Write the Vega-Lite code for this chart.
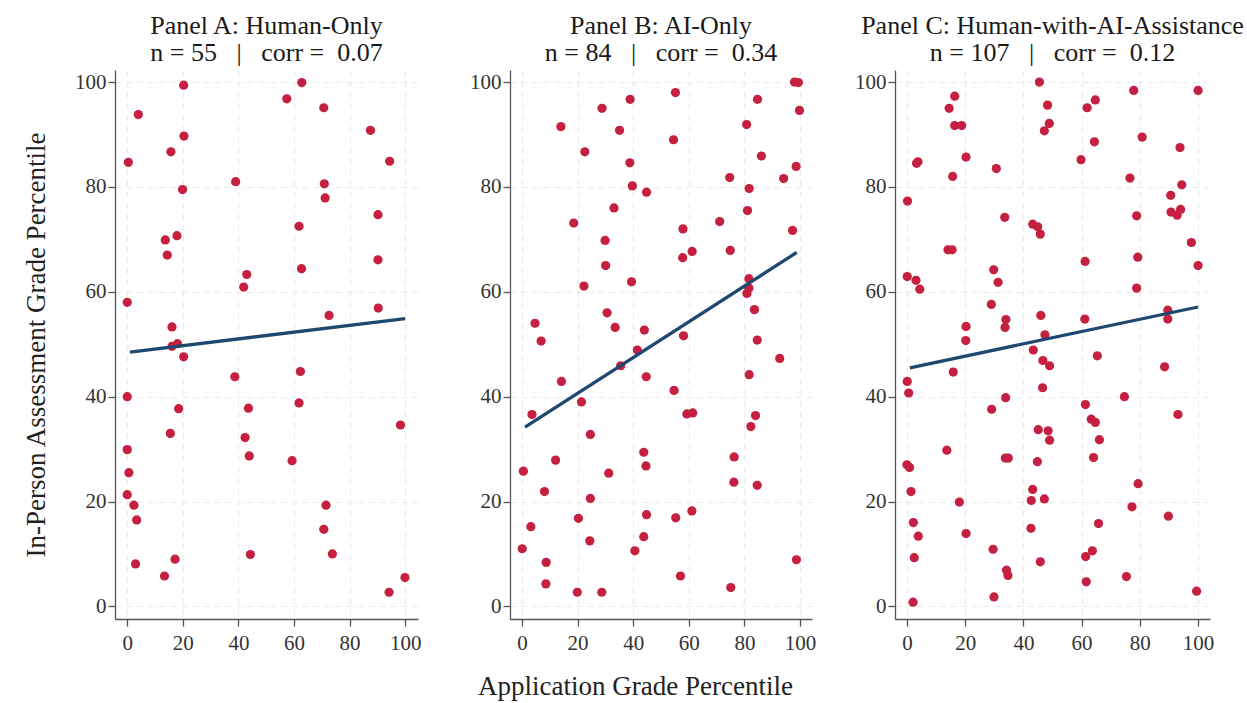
{
  "$schema": "https://vega.github.io/schema/vega-lite/v6.json",
  "background": "white",
  "padding": {"left": 22, "top": 13, "right": 2, "bottom": 2},
  "spacing": 38,
  "config": {
    "font": "Liberation Serif",
    "view": {"stroke": null},
    "axis": {
      "labelFont": "Liberation Serif",
      "labelFontSize": 21,
      "labelColor": "#333333",
      "domainColor": "#555555",
      "domainWidth": 1.3,
      "tickColor": "#555555",
      "tickSize": 7,
      "tickWidth": 1.3,
      "grid": true,
      "gridColor": "#ebebeb",
      "gridDash": [6, 5],
      "gridWidth": 1.2,
      "titleFont": "Liberation Serif",
      "titleFontSize": 27,
      "titleFontWeight": "normal",
      "titleColor": "#222222"
    },
    "axisX": {"labelPadding": 6},
    "axisY": {"labelPadding": 2},
    "title": {
      "font": "Liberation Serif",
      "fontSize": 26,
      "fontWeight": "normal",
      "color": "#1a1a1a",
      "lineHeight": 27,
      "anchor": "middle",
      "offset": 4
    }
  },
  "datasets": {
    "points": [
      {"panel": "A", "app": 20.3, "inperson": 99.4},
      {"panel": "A", "app": 62.8, "inperson": 99.9},
      {"panel": "A", "app": 57.4, "inperson": 96.8},
      {"panel": "A", "app": 4.0, "inperson": 93.8},
      {"panel": "A", "app": 70.7, "inperson": 95.1},
      {"panel": "A", "app": 20.4, "inperson": 89.7},
      {"panel": "A", "app": 87.5, "inperson": 90.8},
      {"panel": "A", "app": 15.7, "inperson": 86.7},
      {"panel": "A", "app": 0.4, "inperson": 84.7},
      {"panel": "A", "app": 94.4, "inperson": 84.9},
      {"panel": "A", "app": 39.0, "inperson": 81.0},
      {"panel": "A", "app": 19.9, "inperson": 79.5},
      {"panel": "A", "app": 70.9, "inperson": 80.6},
      {"panel": "A", "app": 71.2, "inperson": 77.9},
      {"panel": "A", "app": 90.2, "inperson": 74.7},
      {"panel": "A", "app": 17.9, "inperson": 70.7},
      {"panel": "A", "app": 13.7, "inperson": 69.9},
      {"panel": "A", "app": 61.8, "inperson": 72.5},
      {"panel": "A", "app": 14.4, "inperson": 67.0},
      {"panel": "A", "app": 90.2, "inperson": 66.1},
      {"panel": "A", "app": 43.0, "inperson": 63.3},
      {"panel": "A", "app": 41.9, "inperson": 60.9},
      {"panel": "A", "app": 62.7, "inperson": 64.4},
      {"panel": "A", "app": 0.0, "inperson": 58.0},
      {"panel": "A", "app": 90.3, "inperson": 56.9},
      {"panel": "A", "app": 72.6, "inperson": 55.5},
      {"panel": "A", "app": 16.1, "inperson": 53.3},
      {"panel": "A", "app": 16.1, "inperson": 49.6},
      {"panel": "A", "app": 18.1, "inperson": 50.1},
      {"panel": "A", "app": 20.3, "inperson": 47.6},
      {"panel": "A", "app": 38.7, "inperson": 43.8},
      {"panel": "A", "app": 62.3, "inperson": 44.8},
      {"panel": "A", "app": 0.0, "inperson": 40.0},
      {"panel": "A", "app": 18.5, "inperson": 37.7},
      {"panel": "A", "app": 43.6, "inperson": 37.8},
      {"panel": "A", "app": 61.8, "inperson": 38.8},
      {"panel": "A", "app": 98.3, "inperson": 34.6},
      {"panel": "A", "app": 15.5, "inperson": 33.0},
      {"panel": "A", "app": 42.4, "inperson": 32.2},
      {"panel": "A", "app": 43.9, "inperson": 28.7},
      {"panel": "A", "app": 59.3, "inperson": 27.8},
      {"panel": "A", "app": 0.0, "inperson": 29.9},
      {"panel": "A", "app": 0.6, "inperson": 25.5},
      {"panel": "A", "app": 0.0, "inperson": 21.3},
      {"panel": "A", "app": 2.4, "inperson": 19.3},
      {"panel": "A", "app": 71.5, "inperson": 19.3},
      {"panel": "A", "app": 3.4, "inperson": 16.5},
      {"panel": "A", "app": 70.7, "inperson": 14.7},
      {"panel": "A", "app": 44.3, "inperson": 9.9},
      {"panel": "A", "app": 73.8, "inperson": 10.0},
      {"panel": "A", "app": 17.2, "inperson": 9.0},
      {"panel": "A", "app": 3.0, "inperson": 8.1},
      {"panel": "A", "app": 13.4, "inperson": 5.8},
      {"panel": "A", "app": 99.9, "inperson": 5.5},
      {"panel": "A", "app": 94.2, "inperson": 2.7},

      {"panel": "B", "app": 98.0, "inperson": 100.0},
      {"panel": "B", "app": 99.4, "inperson": 99.9},
      {"panel": "B", "app": 55.2, "inperson": 98.0},
      {"panel": "B", "app": 38.9, "inperson": 96.7},
      {"panel": "B", "app": 84.7, "inperson": 96.7},
      {"panel": "B", "app": 28.8, "inperson": 95.0},
      {"panel": "B", "app": 99.8, "inperson": 94.6},
      {"panel": "B", "app": 14.0, "inperson": 91.5},
      {"panel": "B", "app": 35.1, "inperson": 90.8},
      {"panel": "B", "app": 80.8, "inperson": 91.9},
      {"panel": "B", "app": 54.5, "inperson": 89.0},
      {"panel": "B", "app": 22.6, "inperson": 86.7},
      {"panel": "B", "app": 86.1, "inperson": 85.9},
      {"panel": "B", "app": 38.8, "inperson": 84.6},
      {"panel": "B", "app": 98.6, "inperson": 83.9},
      {"panel": "B", "app": 74.7, "inperson": 81.8},
      {"panel": "B", "app": 94.1, "inperson": 81.6},
      {"panel": "B", "app": 39.7, "inperson": 80.2},
      {"panel": "B", "app": 44.8, "inperson": 79.0},
      {"panel": "B", "app": 81.7, "inperson": 79.7},
      {"panel": "B", "app": 33.1, "inperson": 76.0},
      {"panel": "B", "app": 81.1, "inperson": 75.5},
      {"panel": "B", "app": 18.6, "inperson": 73.1},
      {"panel": "B", "app": 71.1, "inperson": 73.4},
      {"panel": "B", "app": 29.9, "inperson": 69.8},
      {"panel": "B", "app": 57.9, "inperson": 72.0},
      {"panel": "B", "app": 97.3, "inperson": 71.7},
      {"panel": "B", "app": 74.9, "inperson": 67.9},
      {"panel": "B", "app": 57.8, "inperson": 66.5},
      {"panel": "B", "app": 61.2, "inperson": 67.7},
      {"panel": "B", "app": 30.1, "inperson": 65.0},
      {"panel": "B", "app": 22.3, "inperson": 61.1},
      {"panel": "B", "app": 39.4, "inperson": 61.9},
      {"panel": "B", "app": 81.6, "inperson": 62.5},
      {"panel": "B", "app": 81.6, "inperson": 60.7},
      {"panel": "B", "app": 80.9, "inperson": 59.7},
      {"panel": "B", "app": 83.6, "inperson": 56.6},
      {"panel": "B", "app": 30.6, "inperson": 56.0},
      {"panel": "B", "app": 4.7, "inperson": 54.0},
      {"panel": "B", "app": 33.5, "inperson": 53.2},
      {"panel": "B", "app": 44.0, "inperson": 52.7},
      {"panel": "B", "app": 58.1, "inperson": 51.6},
      {"panel": "B", "app": 6.9, "inperson": 50.6},
      {"panel": "B", "app": 84.6, "inperson": 50.8},
      {"panel": "B", "app": 41.5, "inperson": 48.9},
      {"panel": "B", "app": 92.7, "inperson": 47.3},
      {"panel": "B", "app": 35.5, "inperson": 45.9},
      {"panel": "B", "app": 14.2, "inperson": 42.9},
      {"panel": "B", "app": 81.7, "inperson": 44.2},
      {"panel": "B", "app": 44.7, "inperson": 43.8},
      {"panel": "B", "app": 54.7, "inperson": 41.2},
      {"panel": "B", "app": 21.4, "inperson": 39.0},
      {"panel": "B", "app": 3.6, "inperson": 36.6},
      {"panel": "B", "app": 59.3, "inperson": 36.7},
      {"panel": "B", "app": 61.4, "inperson": 36.9},
      {"panel": "B", "app": 84.0, "inperson": 36.4},
      {"panel": "B", "app": 82.3, "inperson": 34.3},
      {"panel": "B", "app": 24.6, "inperson": 32.8},
      {"panel": "B", "app": 43.8, "inperson": 29.4},
      {"panel": "B", "app": 12.1, "inperson": 27.9},
      {"panel": "B", "app": 76.3, "inperson": 28.5},
      {"panel": "B", "app": 44.6, "inperson": 26.8},
      {"panel": "B", "app": 0.5, "inperson": 25.8},
      {"panel": "B", "app": 31.2, "inperson": 25.4},
      {"panel": "B", "app": 76.2, "inperson": 23.7},
      {"panel": "B", "app": 84.6, "inperson": 23.1},
      {"panel": "B", "app": 8.1, "inperson": 21.9},
      {"panel": "B", "app": 24.6, "inperson": 20.6},
      {"panel": "B", "app": 44.8, "inperson": 17.5},
      {"panel": "B", "app": 20.3, "inperson": 16.8},
      {"panel": "B", "app": 55.3, "inperson": 16.9},
      {"panel": "B", "app": 61.1, "inperson": 18.2},
      {"panel": "B", "app": 3.2, "inperson": 15.2},
      {"panel": "B", "app": 43.8, "inperson": 13.3},
      {"panel": "B", "app": 24.4, "inperson": 12.5},
      {"panel": "B", "app": 0.1, "inperson": 11.0},
      {"panel": "B", "app": 40.6, "inperson": 10.6},
      {"panel": "B", "app": 98.7, "inperson": 8.9},
      {"panel": "B", "app": 8.7, "inperson": 8.4},
      {"panel": "B", "app": 57.0, "inperson": 5.8},
      {"panel": "B", "app": 8.6, "inperson": 4.3},
      {"panel": "B", "app": 75.1, "inperson": 3.6},
      {"panel": "B", "app": 19.9, "inperson": 2.7},
      {"panel": "B", "app": 28.7, "inperson": 2.7},

      {"panel": "C", "app": 45.5, "inperson": 100.0},
      {"panel": "C", "app": 77.9, "inperson": 98.4},
      {"panel": "C", "app": 100.0, "inperson": 98.4},
      {"panel": "C", "app": 16.4, "inperson": 97.3},
      {"panel": "C", "app": 64.7, "inperson": 96.6},
      {"panel": "C", "app": 48.3, "inperson": 95.6},
      {"panel": "C", "app": 14.5, "inperson": 95.0},
      {"panel": "C", "app": 61.9, "inperson": 95.1},
      {"panel": "C", "app": 48.9, "inperson": 92.1},
      {"panel": "C", "app": 16.4, "inperson": 91.7},
      {"panel": "C", "app": 18.8, "inperson": 91.7},
      {"panel": "C", "app": 47.2, "inperson": 90.7},
      {"panel": "C", "app": 80.8, "inperson": 89.5},
      {"panel": "C", "app": 64.4, "inperson": 88.6},
      {"panel": "C", "app": 93.8, "inperson": 87.5},
      {"panel": "C", "app": 3.8, "inperson": 84.8},
      {"panel": "C", "app": 3.3, "inperson": 84.5},
      {"panel": "C", "app": 20.3, "inperson": 85.7},
      {"panel": "C", "app": 59.8, "inperson": 85.2},
      {"panel": "C", "app": 30.7, "inperson": 83.5},
      {"panel": "C", "app": 15.7, "inperson": 82.0},
      {"panel": "C", "app": 76.6, "inperson": 81.7},
      {"panel": "C", "app": 94.4, "inperson": 80.4},
      {"panel": "C", "app": 90.6, "inperson": 78.4},
      {"panel": "C", "app": 0.2, "inperson": 77.3},
      {"panel": "C", "app": 78.9, "inperson": 74.5},
      {"panel": "C", "app": 90.7, "inperson": 75.2},
      {"panel": "C", "app": 92.8, "inperson": 74.6},
      {"panel": "C", "app": 94.0, "inperson": 75.7},
      {"panel": "C", "app": 33.6, "inperson": 74.2},
      {"panel": "C", "app": 43.2, "inperson": 72.9},
      {"panel": "C", "app": 44.9, "inperson": 72.4},
      {"panel": "C", "app": 45.8, "inperson": 71.0},
      {"panel": "C", "app": 97.7, "inperson": 69.4},
      {"panel": "C", "app": 14.1, "inperson": 68.0},
      {"panel": "C", "app": 15.5, "inperson": 68.0},
      {"panel": "C", "app": 79.3, "inperson": 66.6},
      {"panel": "C", "app": 61.2, "inperson": 65.8},
      {"panel": "C", "app": 100.0, "inperson": 65.0},
      {"panel": "C", "app": 29.8, "inperson": 64.2},
      {"panel": "C", "app": 31.3, "inperson": 61.8},
      {"panel": "C", "app": 0.1, "inperson": 62.9},
      {"panel": "C", "app": 3.1, "inperson": 62.2},
      {"panel": "C", "app": 4.4, "inperson": 60.5},
      {"panel": "C", "app": 78.9, "inperson": 60.7},
      {"panel": "C", "app": 29.0, "inperson": 57.6},
      {"panel": "C", "app": 46.0, "inperson": 55.5},
      {"panel": "C", "app": 61.1, "inperson": 54.8},
      {"panel": "C", "app": 89.6, "inperson": 56.5},
      {"panel": "C", "app": 89.6, "inperson": 54.8},
      {"panel": "C", "app": 34.0, "inperson": 54.7},
      {"panel": "C", "app": 33.7, "inperson": 53.2},
      {"panel": "C", "app": 20.3, "inperson": 53.4},
      {"panel": "C", "app": 20.2, "inperson": 50.7},
      {"panel": "C", "app": 47.4, "inperson": 51.8},
      {"panel": "C", "app": 43.4, "inperson": 48.9},
      {"panel": "C", "app": 65.4, "inperson": 47.8},
      {"panel": "C", "app": 46.7, "inperson": 46.9},
      {"panel": "C", "app": 49.0, "inperson": 45.9},
      {"panel": "C", "app": 88.5, "inperson": 45.7},
      {"panel": "C", "app": 15.9, "inperson": 44.7},
      {"panel": "C", "app": 0.1, "inperson": 42.9},
      {"panel": "C", "app": 0.6, "inperson": 40.7},
      {"panel": "C", "app": 46.6, "inperson": 41.7},
      {"panel": "C", "app": 33.9, "inperson": 39.8},
      {"panel": "C", "app": 74.7, "inperson": 40.0},
      {"panel": "C", "app": 29.1, "inperson": 37.6},
      {"panel": "C", "app": 61.3, "inperson": 38.5},
      {"panel": "C", "app": 93.1, "inperson": 36.6},
      {"panel": "C", "app": 63.3, "inperson": 35.7},
      {"panel": "C", "app": 64.7, "inperson": 35.1},
      {"panel": "C", "app": 45.1, "inperson": 33.7},
      {"panel": "C", "app": 48.5, "inperson": 33.5},
      {"panel": "C", "app": 49.0, "inperson": 31.7},
      {"panel": "C", "app": 66.1, "inperson": 31.8},
      {"panel": "C", "app": 13.7, "inperson": 29.8},
      {"panel": "C", "app": 33.8, "inperson": 28.3},
      {"panel": "C", "app": 34.8, "inperson": 28.3},
      {"panel": "C", "app": 64.1, "inperson": 28.4},
      {"panel": "C", "app": 44.8, "inperson": 27.6},
      {"panel": "C", "app": 0.0, "inperson": 27.0},
      {"panel": "C", "app": 0.9, "inperson": 26.5},
      {"panel": "C", "app": 79.4, "inperson": 23.4},
      {"panel": "C", "app": 43.2, "inperson": 22.3},
      {"panel": "C", "app": 1.4, "inperson": 21.9},
      {"panel": "C", "app": 18.0, "inperson": 19.9},
      {"panel": "C", "app": 42.7, "inperson": 20.2},
      {"panel": "C", "app": 47.2, "inperson": 20.5},
      {"panel": "C", "app": 77.3, "inperson": 19.0},
      {"panel": "C", "app": 89.8, "inperson": 17.2},
      {"panel": "C", "app": 2.2, "inperson": 16.0},
      {"panel": "C", "app": 65.8, "inperson": 15.8},
      {"panel": "C", "app": 42.6, "inperson": 14.9},
      {"panel": "C", "app": 3.9, "inperson": 13.4},
      {"panel": "C", "app": 20.3, "inperson": 13.9},
      {"panel": "C", "app": 29.6, "inperson": 10.9},
      {"panel": "C", "app": 63.7, "inperson": 10.6},
      {"panel": "C", "app": 61.4, "inperson": 9.5},
      {"panel": "C", "app": 2.5, "inperson": 9.3},
      {"panel": "C", "app": 45.8, "inperson": 8.5},
      {"panel": "C", "app": 34.2, "inperson": 6.9},
      {"panel": "C", "app": 34.7, "inperson": 5.9},
      {"panel": "C", "app": 75.4, "inperson": 5.7},
      {"panel": "C", "app": 61.6, "inperson": 4.7},
      {"panel": "C", "app": 99.5, "inperson": 2.9},
      {"panel": "C", "app": 29.9, "inperson": 1.8},
      {"panel": "C", "app": 2.1, "inperson": 0.8}
    ],
    "fit": [
      {"panel": "A", "app": 1.0, "inperson": 48.5},
      {"panel": "A", "app": 100.0, "inperson": 54.9},
      {"panel": "B", "app": 1.1, "inperson": 34.2},
      {"panel": "B", "app": 98.8, "inperson": 67.5},
      {"panel": "C", "app": 1.0, "inperson": 45.5},
      {"panel": "C", "app": 100.0, "inperson": 57.1}
    ]
  },
  "hconcat": [
    {
      "width": 303,
      "height": 549,
      "title": {"text": ["Panel A: Human-Only", "n = 55 \u00a0 | \u00a0 corr = \u00a00.07"]},
      "layer": [
        {
          "data": {"name": "points"},
          "transform": [{"filter": "datum.panel === 'A'"}],
          "mark": {"type": "circle", "size": 85, "opacity": 1, "color": "#C5203F"},
          "encoding": {
            "x": {"field": "app", "type": "quantitative", "scale": {"domain": [-4.4, 104.6], "nice": false, "zero": false}, "axis": {"values": [0, 20, 40, 60, 80, 100], "title": null}},
            "y": {"field": "inperson", "type": "quantitative", "scale": {"domain": [-2.4, 102.3], "nice": false, "zero": false}, "axis": {"values": [0, 20, 40, 60, 80, 100], "title": "In-Person Assessment Grade Percentile", "titlePadding": 24}}
          }
        },
        {
          "data": {"name": "fit"},
          "transform": [{"filter": "datum.panel === 'A'"}],
          "mark": {"type": "line", "color": "#1E4870", "strokeWidth": 3.3},
          "encoding": {
            "x": {"field": "app", "type": "quantitative"},
            "y": {"field": "inperson", "type": "quantitative"}
          }
        }
      ]
    },
    {
      "width": 302,
      "height": 549,
      "title": {"text": ["Panel B: AI-Only", "n = 84 \u00a0 | \u00a0 corr = \u00a00.34"]},
      "layer": [
        {
          "data": {"name": "points"},
          "transform": [{"filter": "datum.panel === 'B'"}],
          "mark": {"type": "circle", "size": 85, "opacity": 1, "color": "#C5203F"},
          "encoding": {
            "x": {"field": "app", "type": "quantitative", "scale": {"domain": [-4.3, 104.3], "nice": false, "zero": false}, "axis": {"values": [0, 20, 40, 60, 80, 100], "title": "Application Grade Percentile", "titleX": 125, "titlePadding": 20}},
            "y": {"field": "inperson", "type": "quantitative", "scale": {"domain": [-2.4, 102.3], "nice": false, "zero": false}, "axis": {"values": [0, 20, 40, 60, 80, 100], "title": null, "minExtent": 51}}
          }
        },
        {
          "data": {"name": "fit"},
          "transform": [{"filter": "datum.panel === 'B'"}],
          "mark": {"type": "line", "color": "#1E4870", "strokeWidth": 3.3},
          "encoding": {
            "x": {"field": "app", "type": "quantitative"},
            "y": {"field": "inperson", "type": "quantitative"}
          }
        }
      ]
    },
    {
      "width": 315,
      "height": 549,
      "title": {"text": ["Panel C: Human-with-AI-Assistance", "n = 107 \u00a0 | \u00a0 corr = \u00a00.12"]},
      "layer": [
        {
          "data": {"name": "points"},
          "transform": [{"filter": "datum.panel === 'C'"}],
          "mark": {"type": "circle", "size": 85, "opacity": 1, "color": "#C5203F"},
          "encoding": {
            "x": {"field": "app", "type": "quantitative", "scale": {"domain": [-4.1, 104.1], "nice": false, "zero": false}, "axis": {"values": [0, 20, 40, 60, 80, 100], "title": null}},
            "y": {"field": "inperson", "type": "quantitative", "scale": {"domain": [-2.4, 102.3], "nice": false, "zero": false}, "axis": {"values": [0, 20, 40, 60, 80, 100], "title": null}}
          }
        },
        {
          "data": {"name": "fit"},
          "transform": [{"filter": "datum.panel === 'C'"}],
          "mark": {"type": "line", "color": "#1E4870", "strokeWidth": 3.3},
          "encoding": {
            "x": {"field": "app", "type": "quantitative"},
            "y": {"field": "inperson", "type": "quantitative"}
          }
        }
      ]
    }
  ]
}
